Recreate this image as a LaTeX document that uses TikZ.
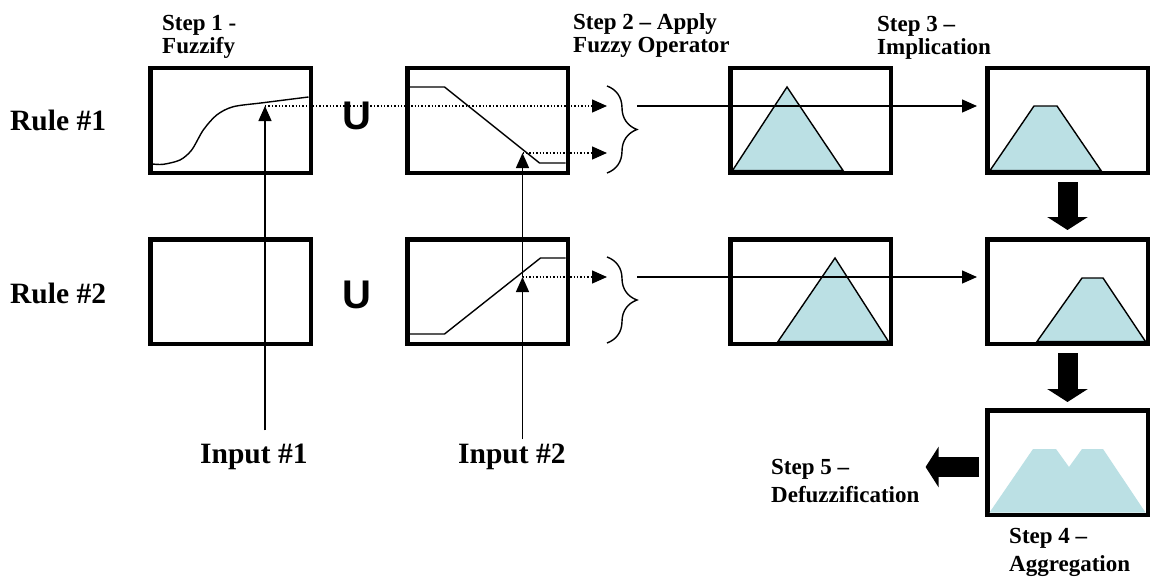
\documentclass[tikz,border=0pt]{standalone}
\usepackage{fontspec}
\setmainfont{Liberation Serif}
\newfontfamily\unionfont{Liberation Sans}
\usetikzlibrary{arrows.meta,positioning,decorations.pathreplacing}
\definecolor{ink}{RGB}{0,0,0}
\definecolor{mfblue}{RGB}{187,224,228}
\tikzset{
  panel/.style={draw=ink,line width=4.5pt,fill=white,minimum width=160.5pt,minimum height=104.5pt,inner sep=0pt},
  mf/.style={draw=ink,line width=1.4pt},
  mfset/.style={mf,fill=mfblue},
  arr/.style={-{Triangle[length=15pt,width=13pt]},line width=1.4pt,ink},
  dotarr/.style={arr,dotted},
  fatarr/.style={-{Triangle[length=13pt,width=40pt]},line width=20pt,ink,shorten <=7pt,shorten >=7pt},
  brc/.style={decorate,decoration={brace,amplitude=30pt},line width=1.4pt},
  rulelbl/.style={font=\bfseries\fontsize{29.5}{30}\selectfont,inner sep=0pt,anchor=base west},
  steplbl/.style={font=\bfseries\fontsize{23}{23}\selectfont,align=left,inner sep=0pt,anchor=north west},
  lowlbl/.style={steplbl,font=\bfseries\fontsize{23}{27.5}\selectfont},
  unionlbl/.style={font=\unionfont\bfseries\fontsize{40}{40}\selectfont,inner sep=0pt},
}

\begin{document}
\begin{tikzpicture}[x=1pt,y=1pt]
  \useasboundingbox (0,0) rectangle (1151,-578);
  % rule 1
  \node[panel] (r1in1) at (230.5,-120.5) {};
  \node[panel,right=92pt of r1in1] (r1in2) {};
  \node[panel,right=158pt of r1in2] (r1imp) {};
  \node[panel,right=92pt of r1imp] (r1out) {};
  % rule 2
  \node[panel,below=62pt of r1in1] (r2in1) {};
  \node[panel,below=62pt of r1in2] (r2in2) {};
  \node[panel,below=62pt of r1imp] (r2imp) {};
  \node[panel,below=62pt of r1out] (r2out) {};
  \node[panel,below=62pt of r2out] (agg) {};

  % membership functions
  \begin{scope}[shift={(r1in1.center)}]
    \draw[mf] plot[smooth] coordinates {(-78,-43.5) (-67.2,-43.8) (-50.5,-39.5) (-38.8,-29.5)
      (-27.2,-9.5) (-13.8,5.5) (2.8,13.8) (32.8,17.8) (78,23.5)};
  \end{scope}
  \begin{scope}[shift={(r1in2.center)}]
    \draw[mf] (-78,33.5) -- (-43,33.5) -- (52,-42.5) -- (78,-42.5);
  \end{scope}
  \begin{scope}[shift={(r2in2.center)}]
    \draw[mf] (-78,-42.5) -- (-43,-42.5) -- (53,33.5) -- (78,33.5);
  \end{scope}
  \begin{scope}[shift={(r1imp.center)}]
    \draw[mfset] (-78,-50) -- (-23.5,33.5) -- (32.5,-50) -- cycle;
  \end{scope}
  \begin{scope}[shift={(r2imp.center)}]
    \draw[mfset] (-32.5,-50) -- (24.5,33.5) -- (78,-50) -- cycle;
  \end{scope}
  \begin{scope}[shift={(r1out.center)}]
    \draw[mfset] (-77.5,-50) -- (-33.5,14.5) -- (-10.5,14.5) -- (33.5,-50) -- cycle;
  \end{scope}
  \begin{scope}[shift={(r2out.center)}]
    \draw[mfset] (-30.5,-50) -- (14.5,13.5) -- (35.5,13.5) -- (78,-50) -- cycle;
  \end{scope}
  \begin{scope}[shift={(agg.center)}]
    \fill[mfblue] (-78,-50) -- (-34.5,13.5) -- (-11.5,13.5) -- (1.5,-4.5) -- (14.5,13.5)
      -- (35.5,13.5) -- (78,-50) -- cycle;
  \end{scope}

  % labels
  \node[rulelbl] (rule1) at (10,-130) {Rule \#1};
  \node[rulelbl] (rule2) at (10,-303) {Rule \#2};
  \node[unionlbl] (u1) at (357,-116) {U};
  \node[unionlbl] (u2) at (357,-295) {U};
  \node[steplbl] (s1) at (162,-15) {Step 1 -\\Fuzzify};
  \node[steplbl] (s2) at (573,-13) {Step 2 – Apply\\Fuzzy Operator};
  \node[steplbl] (s3) at (877,-16) {Step 3 –\\Implication};
  \node[lowlbl] (s4) at (1009,-528.5) {Step 4 –\\Aggregation};
  \node[lowlbl] (s5) at (771,-459.5) {Step 5 –\\Defuzzification};
  \node[rulelbl] (in1) at (200,-463) {Input \#1};
  \node[rulelbl] (in2) at (458,-463) {Input \#2};

  % hit points and braces
  \coordinate (hit1) at ([shift={(34.5,14.5)}]r1in1.center);
  \coordinate (hit2a) at ([shift={(35,-32.5)}]r1in2.center);
  \coordinate (hit2b) at ([shift={(35,14.5)}]r2in2.center);
  \coordinate (br1t) at (607,-86);
  \coordinate (br1b) at (607,-173);
  \coordinate (br2t) at (607,-257);
  \coordinate (br2b) at (607,-343);
  \coordinate (jn1) at (637,-106);
  \coordinate (jn2) at (637,-277);

  \draw[arr,shorten <=13pt] (in1.north -| hit1) -- (hit1);
  \draw[arr,shorten <=4pt] (in2.north -| hit2b) -- (hit2b);
  \draw[arr] (hit2b) -- (hit2a);
  \draw[dotarr] (hit1) -- (hit1 -| br1t);
  \draw[dotarr] (hit2a) -- (hit2a -| br1t);
  \draw[dotarr] (hit2b) -- (hit2b -| br2t);
  \draw[brc] (br1t) -- (br1b);
  \draw[brc] (br2t) -- (br2b);
  \draw[arr,shorten >=8pt] (jn1) -- (jn1 -| r1out.west);
  \draw[arr,shorten >=8pt] (jn2) -- (jn2 -| r2out.west);

  % block arrows
  \draw[fatarr] (r1out) -- (r2out);
  \draw[fatarr,shorten >=6pt] (r2out) -- (agg);
  \draw[fatarr,shorten <=6pt,shorten >=6pt] ([yshift=-4.5pt]agg.west) -- ([yshift=-4.5pt]agg.west -| s5.east);
\end{tikzpicture}
\end{document}
